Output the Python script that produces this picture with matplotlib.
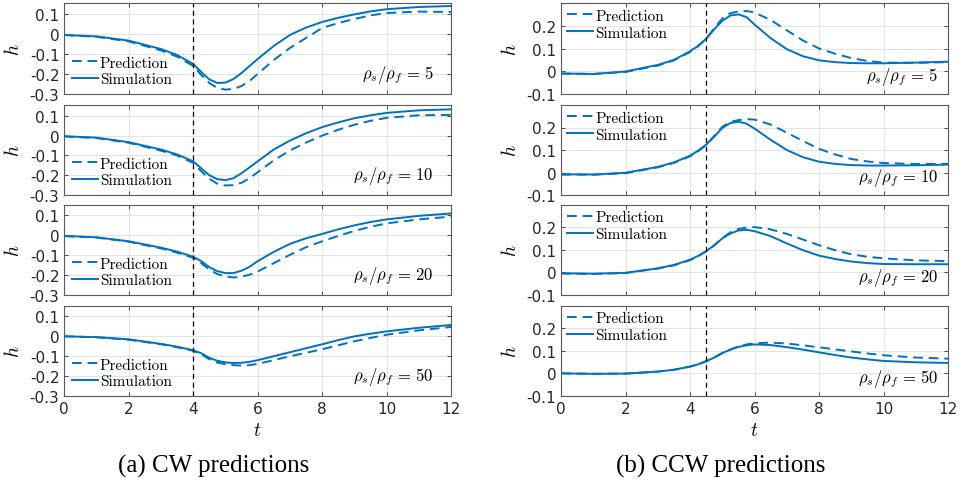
import numpy as np
import matplotlib
matplotlib.use("Agg")
import matplotlib.pyplot as plt

plt.rcParams['mathtext.fontset'] = 'cm'
plt.rcParams['font.family'] = ['DejaVu Sans']
plt.rcParams['axes.unicode_minus'] = False

t = [0, 1, 2, 3, 3.5, 4, 4.25, 4.5, 4.75, 5, 5.25, 5.5, 5.75, 6, 6.5, 7, 7.5, 8, 8.5, 9, 9.5, 10, 11, 12]
ratios = [5, 10, 20, 50]

# CW (left column)
cw_sim = {
    5:  [-0.005, -0.012, -0.033, -0.075, -0.105, -0.15, -0.19, -0.227, -0.245, -0.243, -0.225, -0.195, -0.16, -0.125, -0.06, -0.005, 0.032, 0.06, 0.081, 0.098, 0.113, 0.124, 0.135, 0.14],
    10: [-0.003, -0.01, -0.033, -0.07, -0.095, -0.13, -0.165, -0.2, -0.22, -0.225, -0.215, -0.19, -0.16, -0.13, -0.07, -0.025, 0.012, 0.043, 0.067, 0.088, 0.103, 0.115, 0.128, 0.133],
    20: [-0.003, -0.01, -0.03, -0.062, -0.082, -0.108, -0.13, -0.16, -0.18, -0.19, -0.19, -0.178, -0.158, -0.13, -0.083, -0.043, -0.015, 0.007, 0.03, 0.05, 0.067, 0.08, 0.098, 0.11],
    50: [0.0, -0.004, -0.015, -0.038, -0.052, -0.07, -0.085, -0.108, -0.123, -0.131, -0.134, -0.133, -0.128, -0.12, -0.1, -0.08, -0.06, -0.04, -0.019, 0.0, 0.013, 0.025, 0.043, 0.057],
}
cw_pred = {
    5:  [-0.005, -0.014, -0.037, -0.082, -0.113, -0.16, -0.205, -0.245, -0.27, -0.278, -0.275, -0.26, -0.235, -0.2, -0.13, -0.07, -0.02, 0.03, 0.055, 0.075, 0.093, 0.105, 0.112, 0.11],
    10: [-0.004, -0.012, -0.036, -0.076, -0.1, -0.138, -0.18, -0.218, -0.243, -0.252, -0.25, -0.238, -0.215, -0.185, -0.125, -0.075, -0.035, 0.0, 0.03, 0.055, 0.075, 0.09, 0.103, 0.105],
    20: [-0.004, -0.011, -0.032, -0.066, -0.087, -0.113, -0.14, -0.172, -0.195, -0.207, -0.212, -0.208, -0.198, -0.182, -0.14, -0.098, -0.06, -0.03, -0.003, 0.022, 0.043, 0.06, 0.08, 0.094],
    50: [0.0, -0.005, -0.017, -0.04, -0.055, -0.073, -0.09, -0.115, -0.132, -0.14, -0.145, -0.147, -0.145, -0.138, -0.12, -0.1, -0.083, -0.065, -0.045, -0.025, -0.008, 0.008, 0.03, 0.047],
}
# CCW (right column)
ccw_sim = {
    5:  [-0.01, -0.012, -0.001, 0.028, 0.05, 0.088, 0.112, 0.143, 0.185, 0.222, 0.245, 0.25, 0.238, 0.205, 0.145, 0.097, 0.066, 0.048, 0.04, 0.036, 0.035, 0.035, 0.038, 0.042],
    10: [-0.008, -0.009, -0.001, 0.025, 0.045, 0.075, 0.097, 0.124, 0.16, 0.198, 0.22, 0.226, 0.217, 0.195, 0.145, 0.1, 0.068, 0.048, 0.038, 0.033, 0.031, 0.031, 0.032, 0.035],
    20: [-0.004, -0.006, -0.002, 0.018, 0.033, 0.056, 0.073, 0.094, 0.12, 0.15, 0.172, 0.185, 0.188, 0.182, 0.16, 0.128, 0.098, 0.074, 0.059, 0.048, 0.041, 0.037, 0.036, 0.036],
    50: [0.0, -0.002, -0.001, 0.008, 0.016, 0.03, 0.04, 0.054, 0.07, 0.09, 0.105, 0.117, 0.124, 0.128, 0.125, 0.116, 0.105, 0.093, 0.081, 0.07, 0.062, 0.055, 0.049, 0.046],
}
ccw_pred = {
    5:  [-0.01, -0.012, -0.003, 0.025, 0.048, 0.085, 0.11, 0.143, 0.19, 0.232, 0.255, 0.263, 0.265, 0.258, 0.225, 0.18, 0.135, 0.1, 0.077, 0.058, 0.045, 0.038, 0.037, 0.04],
    10: [-0.009, -0.01, -0.003, 0.023, 0.043, 0.072, 0.095, 0.122, 0.163, 0.203, 0.225, 0.233, 0.237, 0.235, 0.213, 0.177, 0.14, 0.105, 0.08, 0.06, 0.049, 0.042, 0.038, 0.038],
    20: [-0.005, -0.007, -0.003, 0.017, 0.031, 0.054, 0.072, 0.093, 0.12, 0.152, 0.177, 0.192, 0.198, 0.2, 0.19, 0.17, 0.145, 0.12, 0.098, 0.08, 0.069, 0.062, 0.053, 0.05],
    50: [0.0, -0.002, -0.001, 0.008, 0.016, 0.03, 0.04, 0.054, 0.07, 0.09, 0.106, 0.119, 0.128, 0.133, 0.136, 0.132, 0.124, 0.115, 0.106, 0.097, 0.088, 0.08, 0.07, 0.065],
}

cw_yticks = [-0.3, -0.2, -0.1, 0, 0.1]
cw_yticklabels = ['-0.3', '-0.2', '-0.1', '0', '0.1']
ccw_yticks = [-0.1, 0, 0.1, 0.2]
ccw_yticklabels = ['-0.1', '0', '0.1', '0.2']
xticks = [0, 2, 4, 6, 8, 10, 12]
captions = ['(a) CW predictions', '(b) CCW predictions']

BLUE = '#0072BD'
W, H = 960, 485
fig = plt.figure(figsize=(9.6, 4.85), dpi=100)

rows_px = [(4, 95), (106, 196), (205.5, 296), (306.5, 397)]
cols_px = [(64.3, 451), (561.2, 948)]

def px_axes(x0, x1, y0, y1):
    return fig.add_axes([x0 / W, 1 - y1 / H, (x1 - x0) / W, (y1 - y0) / H])

for c, (sim, pred, ylim, yt, ytl, tv) in enumerate([
        (cw_sim, cw_pred, (-0.3, 0.155), cw_yticks, cw_yticklabels, 4.0),
        (ccw_sim, ccw_pred, (-0.1, 0.3), ccw_yticks, ccw_yticklabels, 4.5)]):
    for r, rho in enumerate(ratios):
        ax = px_axes(cols_px[c][0], cols_px[c][1], rows_px[r][0], rows_px[r][1])
        lp, = ax.plot(t, pred[rho], color=BLUE, lw=1.4, ls=(0, (5, 3)), label='Prediction')
        ls_, = ax.plot(t, sim[rho], color=BLUE, lw=1.4, label='Simulation')
        ax.axvline(tv, color='black', lw=0.9, ls=(0, (4, 3)))
        ax.set_xlim(0, 12)
        ax.set_ylim(*ylim)
        ax.set_xticks(xticks)
        ax.set_yticks(yt)
        ax.set_yticklabels(ytl)
        ax.grid(True, color='#e3e3e3', lw=0.8)
        ax.set_axisbelow(True)
        for s in ax.spines.values():
            s.set_color('#5a5a5a')
            s.set_linewidth(0.8)
        ax.tick_params(direction='in', length=3, width=0.6, color='#333333',
                       top=True, right=True, labelsize=11, labelcolor='#262626', pad=3.5)
        if r < 3:
            ax.tick_params(labelbottom=False)
        else:
            ax.set_xlabel(r'$t$', fontsize=14, labelpad=3)
        ax.set_ylabel(r'$h$', fontsize=14, labelpad=5)
        label = r'$\rho_s/\rho_f\,=\,%d$' % rho
        if c == 0:
            ax.legend(handles=[lp, ls_], loc='lower left', bbox_to_anchor=(0.0, 0.0),
                      frameon=False, prop={'family': 'cmr10', 'size': 11},
                      handlelength=1.7, handletextpad=0.12, labelspacing=0.2,
                      borderaxespad=0.2, borderpad=0.3)
            ax.text(0.955, 0.22, label, transform=ax.transAxes,
                    ha='right', va='center', fontsize=12)
        else:
            ax.legend(handles=[lp, ls_], loc='upper left', bbox_to_anchor=(0.0, 1.0),
                      frameon=False, prop={'family': 'cmr10', 'size': 11},
                      handlelength=1.7, handletextpad=0.12, labelspacing=0.2,
                      borderaxespad=0.1, borderpad=0.3)
            ax.text(0.975, 0.2, label, transform=ax.transAxes,
                    ha='right', va='center', fontsize=12)

fig.text(214 / W, 1 - 466 / H, captions[0], ha='center', va='center',
         family='Liberation Serif', fontsize=18)
fig.text(721 / W, 1 - 466 / H, captions[1], ha='center', va='center',
         family='Liberation Serif', fontsize=18)

fig.savefig('out.png', dpi=100, facecolor='white')
